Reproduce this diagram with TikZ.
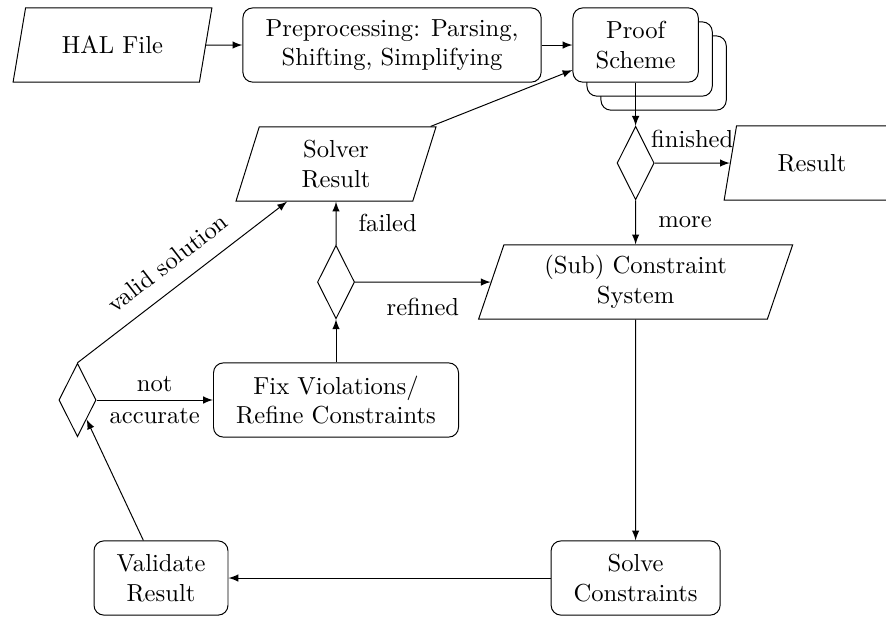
\documentclass[tikz,border=0pt]{standalone}
\usetikzlibrary{shapes,shadows}

\begin{document}
\begin{tikzpicture}[>=latex]
\tikzstyle{io}=[
	trapezium,
	trapezium left angle=70,
	trapezium right angle=110,
	trapezium stretches body,
	minimum height=1.06cm,
	align=center,
	draw ]
\tikzstyle{proc}=[
	rectangle,
	rounded corners,
	minimum height=1.06cm,
	align=center,
	draw ]
\tikzstyle{decision}=[
	diamond,
	inner sep=0pt,
	minimum width=0.53cm,
	minimum height=1.05cm,
	draw ]
\tikzstyle{stack}=[
	fill=white,
	general shadow={fill=white, draw, shadow xshift=0.4cm, shadow yshift=-0.4cm},
	general shadow={fill=white, draw, shadow xshift=0.2cm, shadow yshift=-0.2cm} ]
\useasboundingbox (0,0) rectangle (12.657,-8.814);
\node[io, minimum width=2.84cm] (hal) at (1.607,-0.643) {HAL File};
\node[proc, minimum width=4.26cm] (prep) at (5.6,-0.643) {Preprocessing: Parsing,\\Shifting, Simplifying};
\node[proc, stack, minimum width=1.79cm] (scheme) at (9.08,-0.643) {Proof\\Scheme};
\node[decision] (qfinished) at (9.08,-2.329) {};
\node[io, minimum width=2.51cm] (result) at (11.6,-2.329) {Result};
\node[io, minimum width=2.857cm] (solver) at (4.8,-2.343) {Solver\\Result};
\node[decision] (qfailed) at (4.8,-4.029) {};
\node[io, minimum width=4.486cm] (sub) at (9.08,-4.029) {(Sub) Constraint\\System};
\node[proc, minimum width=3.5cm] (fix) at (4.8,-5.714) {Fix Violations/\\Refine Constraints};
\node[decision] (qvalid) at (1.107,-5.714) {};
\node[proc, minimum width=1.914cm] (validate) at (2.3,-8.257) {Validate\\Result};
\node[proc, minimum width=2.414cm] (solve) at (9.08,-8.257) {Solve\\Constraints};

\draw[->] (hal) -- (prep);
\draw[->] (prep) -- (scheme);
\draw[->] (solver) -- (scheme);
\draw[->] (scheme) -- (qfinished);
\draw[->] (qfinished) -- node[above=1mm] {finished} (result);
\draw[->] (qfinished) -- node[right=2mm] {more} (sub);
\draw[->] (sub) -- (solve);
\draw[->] (solve) -- (validate);
\draw[->] (validate) -- (qvalid);
\draw[->] (qvalid.north) -- node[above=1mm, sloped] {valid solution} (solver);
\draw[->] (qvalid) -- node[above] {not} node[below] {accurate} (fix);
\draw[->] (fix) -- (qfailed);
\draw[->] (qfailed) -- node[right=2mm] {failed} (solver);
\draw[->] (qfailed) -- node[below=1mm] {refined} (sub);
\end{tikzpicture}
\end{document}
